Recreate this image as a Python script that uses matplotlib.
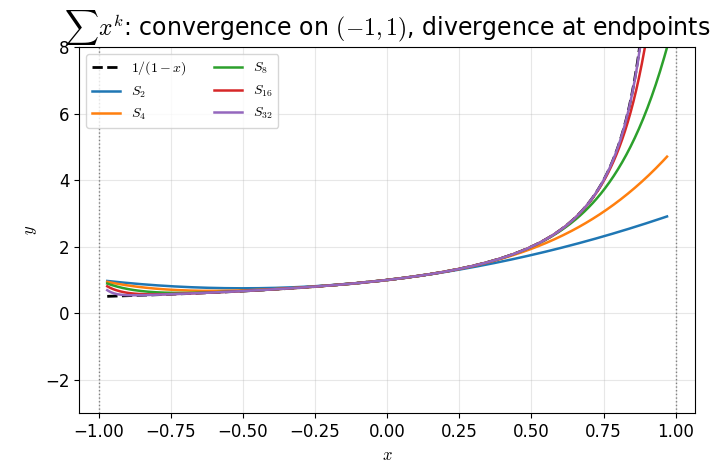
import numpy as np
import matplotlib
matplotlib.use("Agg")
import matplotlib.pyplot as plt

plt.rcParams["mathtext.fontset"] = "cm"

# 部分和的阶数
orders = [2, 4, 8, 16, 32]
colors = ["#1f77b4", "#ff7f0e", "#2ca02c", "#d62728", "#9467bd"]
x_left, x_right = -0.97, 0.97
endpoints = [-1.0, 1.0]
y_limits = (-3, 8)

x = np.linspace(x_left, x_right, 400)

fig, ax = plt.subplots(figsize=(7.27, 4.72), dpi=100)

ax.plot(x, 1 / (1 - x), "k--", lw=2, label=r"$1/(1-x)$")
for n, c in zip(orders, colors):
    s = sum(x ** k for k in range(n + 1))
    ax.plot(x, s, color=c, lw=1.8, label=rf"$S_{{{n}}}$")

for e in endpoints:
    ax.axvline(e, color="gray", ls=":", lw=1)

ax.set_ylim(*y_limits)
ax.set_xlabel(r"$x$", fontsize=12)
ax.set_ylabel(r"$y$", fontsize=12)
ax.set_title(r"$\sum x^k$: convergence on $(-1,1)$, divergence at endpoints", fontsize=17)
ax.grid(True, alpha=0.3)
ax.legend(loc="upper left", ncol=2, fontsize=10)
ax.tick_params(labelsize=12)

plt.subplots_adjust(left=0.109, right=0.956, top=0.9, bottom=0.125)
plt.savefig("out.png", dpi=100)
